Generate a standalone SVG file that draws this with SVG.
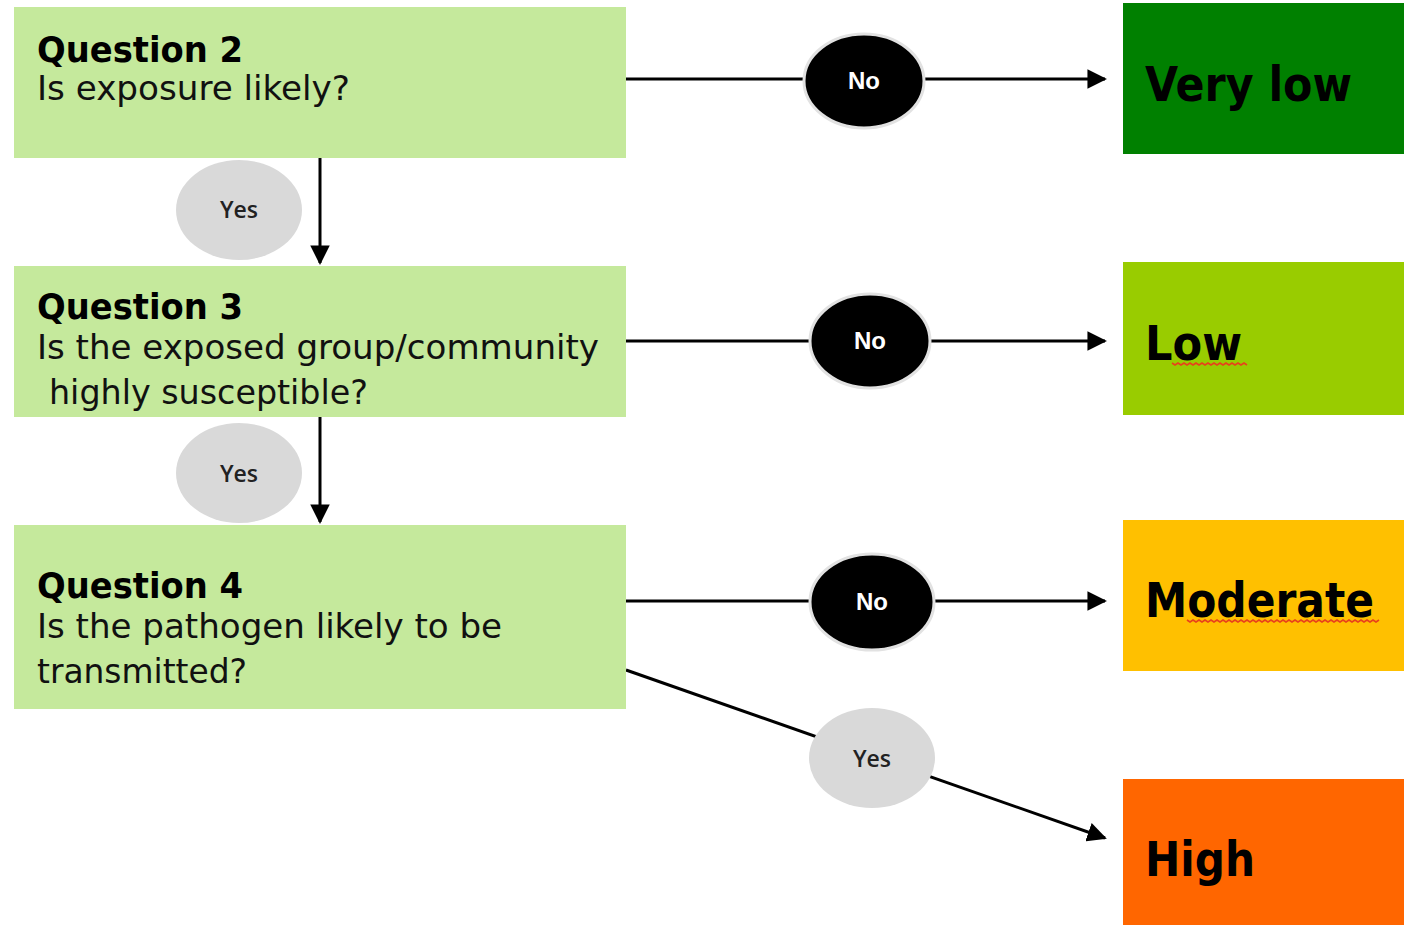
<svg xmlns="http://www.w3.org/2000/svg" width="1404" height="925" viewBox="0 0 1404 925">
  <style>
    .q { fill: #c5e99c; }
    .title { font-family: "DejaVu Sans Condensed", "DejaVu Sans", sans-serif; font-weight: bold; font-size: 36px; fill: #000; }
    .body { font-family: "DejaVu Sans Condensed", "DejaVu Sans", sans-serif; font-size: 34px; fill: #111; }
    .res { font-family: "DejaVu Sans Condensed", "DejaVu Sans", sans-serif; font-weight: bold; font-size: 48px; fill: #000; }
    .no-shape { fill: #000; stroke: #e2e2e2; stroke-width: 3; }
    .no-text { font-family: "Liberation Sans", Arial, sans-serif; font-weight: bold; font-size: 24px; fill: #fff; text-anchor: middle; }
    .yes-shape { fill: #d9d9d9; }
    .yes-text { font-family: "Open Sans", "Liberation Sans", sans-serif; font-weight: 600; font-size: 23px; fill: #222; text-anchor: middle; }
    .conn { stroke: #000; stroke-width: 3; fill: none; }
    .squiggle { stroke: #e8401c; stroke-width: 1.6; fill: none; }
  </style>
  <defs>
    <marker id="arrow" viewBox="0 0 10 10" refX="9" refY="5" markerWidth="6.5" markerHeight="6.5" markerUnits="strokeWidth" orient="auto">
      <path d="M0,0 L10,5 L0,10 Z" fill="#000"/>
    </marker>
  </defs>

  <rect width="1404" height="925" fill="#fff"/>

  <!-- connectors -->
  <g id="connectors">
    <line class="conn" x1="626" y1="79" x2="1105" y2="79" marker-end="url(#arrow)"/>
    <line class="conn" x1="626" y1="341" x2="1105" y2="341" marker-end="url(#arrow)"/>
    <line class="conn" x1="626" y1="601" x2="1105" y2="601" marker-end="url(#arrow)"/>
    <line class="conn" x1="320" y1="158" x2="320" y2="263" marker-end="url(#arrow)"/>
    <line class="conn" x1="320" y1="417" x2="320" y2="522" marker-end="url(#arrow)"/>
    <line class="conn" x1="626" y1="670" x2="1105" y2="838" marker-end="url(#arrow)"/>
  </g>

  <!-- question boxes -->
  <g id="q2">
    <rect class="q" x="14" y="7" width="612" height="151"/>
    <text class="title" x="37" y="62" textLength="206" lengthAdjust="spacingAndGlyphs">Question 2</text>
    <text class="body" x="37" y="100" textLength="313" lengthAdjust="spacingAndGlyphs">Is exposure likely?</text>
  </g>
  <g id="q3">
    <rect class="q" x="14" y="266" width="612" height="151"/>
    <text class="title" x="37" y="319" textLength="206" lengthAdjust="spacingAndGlyphs">Question 3</text>
    <text class="body" x="37" y="359" textLength="562" lengthAdjust="spacingAndGlyphs">Is the exposed group/community</text>
    <text class="body" x="49" y="404" textLength="319" lengthAdjust="spacingAndGlyphs">highly susceptible?</text>
  </g>
  <g id="q4">
    <rect class="q" x="14" y="525" width="612" height="184"/>
    <text class="title" x="37" y="598" textLength="206" lengthAdjust="spacingAndGlyphs">Question 4</text>
    <text class="body" x="37" y="638" textLength="465" lengthAdjust="spacingAndGlyphs">Is the pathogen likely to be</text>
    <text class="body" x="37" y="683" textLength="210" lengthAdjust="spacingAndGlyphs">transmitted?</text>
  </g>

  <!-- outcome boxes -->
  <g id="very-low">
    <rect x="1123" y="3" width="281" height="151" fill="#008000"/>
    <text class="res" x="1145" y="101" textLength="207" lengthAdjust="spacingAndGlyphs">Very low</text>
  </g>
  <g id="low">
    <rect x="1123" y="262" width="281" height="153" fill="#99cc00"/>
    <text class="res" x="1145" y="360" textLength="97" lengthAdjust="spacingAndGlyphs">Low</text>
    <path class="squiggle" d="M1172,363 l3,2 l3,-2 l3,2 l3,-2 l3,2 l3,-2 l3,2 l3,-2 l3,2 l3,-2 l3,2 l3,-2 l3,2 l3,-2 l3,2 l3,-2 l3,2 l3,-2 l3,2 l3,-2 l3,2 l3,-2 l3,2 l3,-2 l3,2"/>
  </g>
  <g id="moderate">
    <rect x="1123" y="520" width="281" height="151" fill="#ffc000"/>
    <text class="res" x="1145" y="617" textLength="229" lengthAdjust="spacingAndGlyphs">Moderate</text>
    <path class="squiggle" d="M1187,620 l3,2 l3,-2 l3,2 l3,-2 l3,2 l3,-2 l3,2 l3,-2 l3,2 l3,-2 l3,2 l3,-2 l3,2 l3,-2 l3,2 l3,-2 l3,2 l3,-2 l3,2 l3,-2 l3,2 l3,-2 l3,2 l3,-2 l3,2 l3,-2 l3,2 l3,-2 l3,2 l3,-2 l3,2 l3,-2 l3,2 l3,-2 l3,2 l3,-2 l3,2 l3,-2 l3,2 l3,-2 l3,2 l3,-2 l3,2 l3,-2 l3,2 l3,-2 l3,2 l3,-2 l3,2 l3,-2 l3,2 l3,-2 l3,2 l3,-2 l3,2 l3,-2 l3,2 l3,-2 l3,2 l3,-2 l3,2 l3,-2 l3,2 l3,-2"/>
  </g>
  <g id="high">
    <rect x="1123" y="779" width="281" height="146" fill="#ff6600"/>
    <text class="res" x="1145" y="876" textLength="110" lengthAdjust="spacingAndGlyphs">High</text>
  </g>

  <!-- decision labels -->
  <g id="no-1">
    <ellipse class="no-shape" cx="864" cy="81" rx="60" ry="47"/>
    <text class="no-text" x="864" y="89">No</text>
  </g>
  <g id="no-2">
    <ellipse class="no-shape" cx="870" cy="341" rx="60" ry="47"/>
    <text class="no-text" x="870" y="349">No</text>
  </g>
  <g id="no-3">
    <ellipse class="no-shape" cx="872" cy="602" rx="62" ry="48"/>
    <text class="no-text" x="872" y="610">No</text>
  </g>
  <g id="yes-1">
    <ellipse class="yes-shape" cx="239" cy="210" rx="63" ry="50"/>
    <text class="yes-text" x="239" y="218">Yes</text>
  </g>
  <g id="yes-2">
    <ellipse class="yes-shape" cx="239" cy="473" rx="63" ry="50"/>
    <text class="yes-text" x="239" y="482">Yes</text>
  </g>
  <g id="yes-3">
    <ellipse class="yes-shape" cx="872" cy="758" rx="63" ry="50"/>
    <text class="yes-text" x="872" y="767">Yes</text>
  </g>
</svg>
